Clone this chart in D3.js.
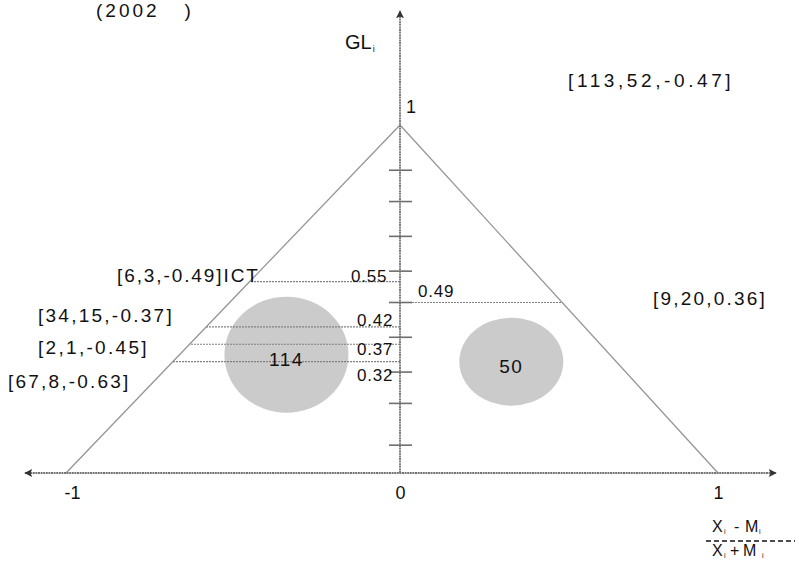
<!DOCTYPE html>
<html>
<head>
<meta charset="utf-8">
<script src="https://cdn.jsdelivr.net/npm/d3@7"></script>
<style>
  html, body { margin: 0; padding: 0; background: #fff; }
  svg { display: block; font-family: "Liberation Sans", Arial, sans-serif; }
</style>
</head>
<body>
<svg id="chart" width="799" height="564"></svg>
<script>
// Trade-balance triangle: x = (Xi - Mi)/(Xi + Mi), y = GL index
const xTicks = [-1, 0, 1];
const xTickLabels = ["-1", "0", "1"];
const yTicks = [0.08, 0.2, 0.29, 0.39, 0.49, 0.58, 0.68, 0.78, 0.87];

// GL levels marked with dotted guide lines (side: -1 left edge, 1 right edge)
const glLevels = [0.55, 0.42, 0.37, 0.32, 0.49];
const glSides  = [-1, -1, -1, -1, 1];

// Group bubbles: count, balance, GL
const bubbleCounts  = [114, 50];
const bubbleBalance = [-0.34, 0.35];
const bubbleGL      = [0.34, 0.32];

// Bracket annotations
const noteTexts = ["[113,52,-0.47]", "[9,20,0.36]", "[6,3,-0.49]ICT",
                   "[34,15,-0.37]", "[2,1,-0.45]", "[67,8,-0.63]"];

const svg = d3.select("#chart");
const x = d3.scaleLinear().domain([-1, 0, 1]).range([66, 400, 718]);
const y = d3.scaleLinear().domain([0, 1]).range([473, 125]);

const axisColor = "#747474";

// Arrow markers
const defs = svg.append("defs");
defs.append("marker")
  .attr("id", "arrow").attr("viewBox", "0 0 10 10")
  .attr("refX", 9).attr("refY", 5)
  .attr("markerWidth", 9).attr("markerHeight", 8)
  .attr("markerUnits", "userSpaceOnUse")
  .attr("orient", "auto-start-reverse")
  .append("path").attr("d", "M0,0 L10,5 L0,10 L2,5 Z").attr("fill", "#333");

// Circles (drawn first so guide lines pass over them)
const rx = d3.scaleLinear().domain([50, 114]).range([52, 62]);
const ry = d3.scaleLinear().domain([50, 114]).range([44, 58]);
const bubbles = bubbleCounts.map((c, i) => ({ c, bx: bubbleBalance[i], gl: bubbleGL[i] }));
svg.append("g").selectAll("ellipse").data(bubbles).join("ellipse")
  .attr("cx", d => x(d.bx)).attr("cy", d => y(d.gl))
  .attr("rx", d => rx(d.c)).attr("ry", d => ry(d.c))
  .attr("fill", "#cbcbcb");

// Triangle
const tri = d3.line().x(d => x(d[0])).y(d => y(d[1]));
svg.append("path")
  .attr("d", tri([[-1, 0], [0, 1], [1, 0]]))
  .attr("fill", "none").attr("stroke", "#969696").attr("stroke-width", 1.3);

// GL guide lines from the axis to the triangle edge
const guides = glLevels.map((g, i) => ({ g, side: glSides[i] }));
svg.append("g").selectAll("line").data(guides).join("line")
  .attr("x1", x(0))
  .attr("x2", d => x(d.side < 0 ? d.g - 1 : 1 - d.g))
  .attr("y1", d => y(d.g)).attr("y2", d => y(d.g))
  .attr("stroke", "#808080").attr("stroke-width", 1.2)
  .attr("stroke-dasharray", "2,1");

// X axis line with arrows both ends
svg.append("line")
  .attr("x1", 25).attr("x2", 776).attr("y1", y(0)).attr("y2", y(0))
  .attr("stroke", axisColor).attr("stroke-width", 2.2)
  .attr("stroke-dasharray", "2,0.6")
  .attr("marker-start", "url(#arrow)").attr("marker-end", "url(#arrow)");

// Y axis line with arrow at top
svg.append("line")
  .attr("x1", x(0)).attr("x2", x(0)).attr("y1", y(0)).attr("y2", 11)
  .attr("stroke", axisColor).attr("stroke-width", 1.8)
  .attr("stroke-dasharray", "2,0.6")
  .attr("marker-end", "url(#arrow)");

// Y tick marks straddling the axis
svg.append("g").selectAll("line").data(yTicks).join("line")
  .attr("x1", x(0) - 11).attr("x2", x(0) + 12)
  .attr("y1", d => y(d)).attr("y2", d => y(d))
  .attr("stroke", "#6e6e6e").attr("stroke-width", 1.6);

// X tick labels
const xAxis = d3.axisBottom(x).tickValues(xTicks).tickSize(0).tickPadding(13)
  .tickFormat((d, i) => xTickLabels[i]);
const gx = svg.append("g").attr("transform", `translate(0,${y(0)})`).call(xAxis);
gx.select(".domain").remove();
gx.selectAll("text").attr("font-size", 18).attr("fill", "#111")
  .attr("font-family", "Liberation Sans, Arial, sans-serif");
gx.selectAll(".tick").filter(d => d === -1).select("text").attr("dx", 6);

// Y top label "1"
svg.append("text").attr("x", x(0) + 6).attr("y", y(1) - 12)
  .attr("font-size", 18).attr("fill", "#111").text("1");

// Axis title GLi
const glT = svg.append("text").attr("x", 345).attr("y", 49)
  .attr("font-size", 20).attr("fill", "#111");
glT.append("tspan").text("GL");
glT.append("tspan").attr("font-size", 9).attr("dy", 3).attr("dx", 1).text("i");

// Level value labels
const levelLabelPos = { 0.55: [351, 282], 0.42: [357, 326], 0.37: [357, 355], 0.32: [357, 381], 0.49: [418, 297] };
svg.append("g").selectAll("text").data(glLevels).join("text")
  .attr("x", d => levelLabelPos[d][0]).attr("y", d => levelLabelPos[d][1])
  .attr("font-size", 17).attr("letter-spacing", 0.8).attr("fill", "#111")
  .text(d => d3.format(".2f")(d));

// Bubble counts
svg.append("g").selectAll("text").data(bubbles).join("text")
  .attr("x", d => x(d.bx)).attr("y", d => y(d.gl) + 11)
  .attr("text-anchor", "middle").attr("font-size", 19).attr("letter-spacing", 1.5)
  .attr("fill", "#111").text(d => d.c);

// Bracket annotations
const notePos = [[568, 87, 3.6], [653, 305, 2.2], [117, 282, 1.9],
                 [38, 322, 2.25], [38, 354, 2.3], [8, 388, 2.2]];
svg.append("g").selectAll("text").data(noteTexts).join("text")
  .attr("x", (d, i) => notePos[i][0]).attr("y", (d, i) => notePos[i][1])
  .attr("letter-spacing", (d, i) => notePos[i][2])
  .attr("font-size", 19).attr("fill", "#111").text(d => d);

// Title fragment at top left
svg.append("text").attr("x", 96).attr("y", 17)
  .attr("font-size", 19).attr("fill", "#111").attr("letter-spacing", 3)
  .style("white-space", "pre")
  .text("(2002   )");

// X axis title as a fraction
const frac = svg.append("g").attr("font-size", 16).attr("fill", "#111");
const fracParts = [
  { t: "X", x: 712, y: 532, s: 16 }, { t: "i", x: 724, y: 534, s: 7 },
  { t: "-", x: 734, y: 532, s: 16 }, { t: "M", x: 745, y: 532, s: 16 },
  { t: "i", x: 759, y: 534, s: 7 },
  { t: "X", x: 712, y: 556, s: 16 }, { t: "i", x: 724, y: 558, s: 7 },
  { t: "+", x: 730, y: 556, s: 16 }, { t: "M", x: 743, y: 556, s: 16 },
  { t: "i", x: 762, y: 558, s: 7 }
];
frac.selectAll("text").data(fracParts).join("text")
  .attr("x", d => d.x).attr("y", d => d.y).attr("font-size", d => d.s)
  .text(d => d.t);
frac.append("line").attr("x1", 706).attr("x2", 795).attr("y1", 541).attr("y2", 541)
  .attr("stroke", "#111").attr("stroke-width", 1.3).attr("stroke-dasharray", "5,3");
</script>
</body>
</html>
